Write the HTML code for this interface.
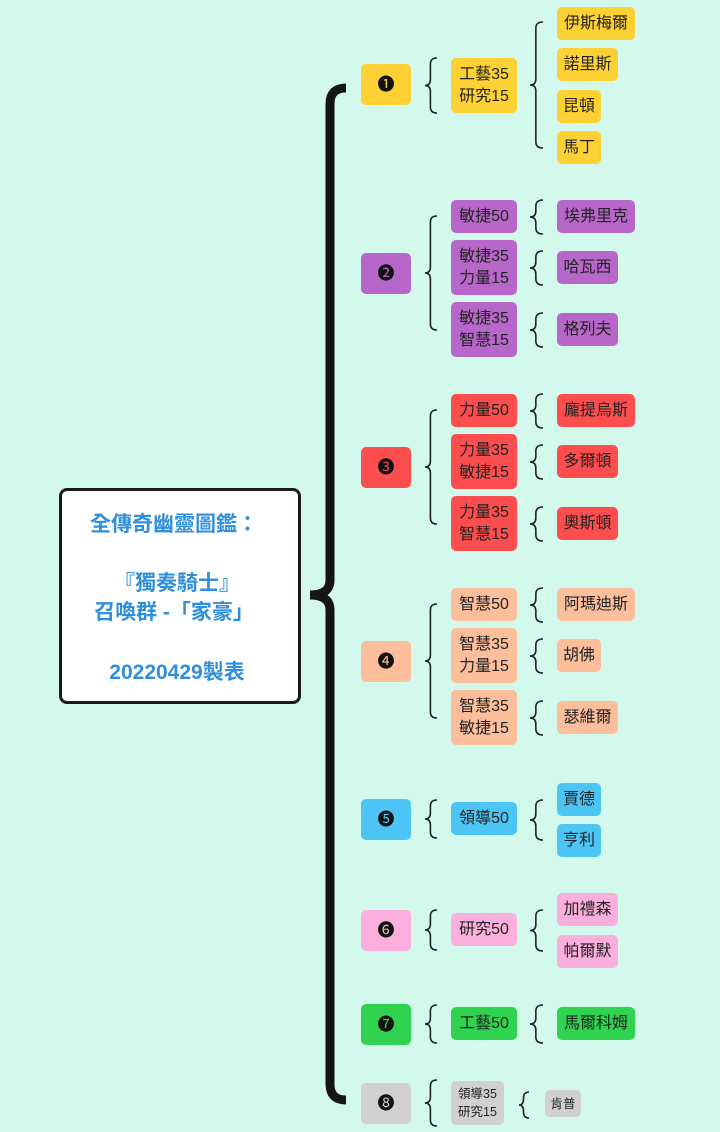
<!DOCTYPE html>
<html><head><meta charset="utf-8"><style>
body{margin:0;width:720px;height:1132px;background:#d3f9ed;position:relative;overflow:hidden;font-family:"Liberation Sans","Noto Sans CJK TC",sans-serif;}
.b{position:absolute;border-radius:5px;color:#222;font-size:16px;line-height:22px;display:flex;align-items:center;justify-content:center;text-align:center;white-space:nowrap;}
.y{background:#fdd133}.p{background:#b767c9}.r{background:#fc4e4e}.o{background:#fdbe9c}.c{background:#4cc5f5}.k{background:#fcafdc}.g{background:#30d350}.s{background:#d0d0d0}
.n{font-size:17px;color:#111}
#root{position:absolute;left:59px;top:488px;width:236px;height:210px;background:#fff;border:3px solid #1a1a1a;border-radius:8px;color:#2f8fdc;font-weight:bold;font-size:21px;text-align:center;}
#root div{position:absolute;left:0;right:0}
svg{position:absolute;left:0;top:0}
</style></head><body>
<svg width="720" height="1132" id="sv"></svg>
<div id="root">
<div style="top:17px;left:-12px">全傳奇幽靈圖鑑：</div>
<div style="top:76px;left:-6px">『獨奏騎士』</div>
<div style="top:105px;left:-12px">召喚群 -「家豪」</div>
<div style="top:165px;left:-6px">20220429製表</div>
</div>

<div class="b y n" style="left:361px;top:64px;width:50px;height:41px">❶</div>
<div class="b y" style="left:451px;top:58px;width:66px;height:55px">工藝35<br>研究15</div>
<div class="b y" style="left:557px;top:7px;width:78px;height:33px">伊斯梅爾</div>
<div class="b y" style="left:557px;top:48px;width:61px;height:33px">諾里斯</div>
<div class="b y" style="left:557px;top:90px;width:44px;height:33px">昆頓</div>
<div class="b y" style="left:557px;top:131px;width:44px;height:33px">馬丁</div>

<div class="b p n" style="left:361px;top:253px;width:50px;height:41px">❷</div>
<div class="b p" style="left:451px;top:200px;width:66px;height:33px">敏捷50</div>
<div class="b p" style="left:451px;top:240px;width:66px;height:55px">敏捷35<br>力量15</div>
<div class="b p" style="left:451px;top:302px;width:66px;height:55px">敏捷35<br>智慧15</div>
<div class="b p" style="left:557px;top:200px;width:78px;height:33px">埃弗里克</div>
<div class="b p" style="left:557px;top:251px;width:61px;height:33px">哈瓦西</div>
<div class="b p" style="left:557px;top:313px;width:61px;height:33px">格列夫</div>

<div class="b r n" style="left:361px;top:447px;width:50px;height:41px">❸</div>
<div class="b r" style="left:451px;top:394px;width:66px;height:33px">力量50</div>
<div class="b r" style="left:451px;top:434px;width:66px;height:55px">力量35<br>敏捷15</div>
<div class="b r" style="left:451px;top:496px;width:66px;height:55px">力量35<br>智慧15</div>
<div class="b r" style="left:557px;top:394px;width:78px;height:33px">龐提烏斯</div>
<div class="b r" style="left:557px;top:445px;width:61px;height:33px">多爾頓</div>
<div class="b r" style="left:557px;top:507px;width:61px;height:33px">奧斯頓</div>

<div class="b o n" style="left:361px;top:641px;width:50px;height:41px">❹</div>
<div class="b o" style="left:451px;top:588px;width:66px;height:33px">智慧50</div>
<div class="b o" style="left:451px;top:628px;width:66px;height:55px">智慧35<br>力量15</div>
<div class="b o" style="left:451px;top:690px;width:66px;height:55px">智慧35<br>敏捷15</div>
<div class="b o" style="left:557px;top:588px;width:78px;height:33px">阿瑪迪斯</div>
<div class="b o" style="left:557px;top:639px;width:44px;height:33px">胡佛</div>
<div class="b o" style="left:557px;top:701px;width:61px;height:33px">瑟維爾</div>

<div class="b c n" style="left:361px;top:799px;width:50px;height:41px">❺</div>
<div class="b c" style="left:451px;top:802px;width:66px;height:33px">領導50</div>
<div class="b c" style="left:557px;top:783px;width:44px;height:33px">賈德</div>
<div class="b c" style="left:557px;top:824px;width:44px;height:33px">亨利</div>

<div class="b k n" style="left:361px;top:910px;width:50px;height:41px">❻</div>
<div class="b k" style="left:451px;top:913px;width:66px;height:33px">研究50</div>
<div class="b k" style="left:557px;top:893px;width:61px;height:33px">加禮森</div>
<div class="b k" style="left:557px;top:935px;width:61px;height:33px">帕爾默</div>

<div class="b g n" style="left:361px;top:1004px;width:50px;height:41px">❼</div>
<div class="b g" style="left:451px;top:1007px;width:66px;height:33px">工藝50</div>
<div class="b g" style="left:557px;top:1007px;width:78px;height:33px">馬爾科姆</div>

<div class="b s n" style="left:361px;top:1083px;width:50px;height:41px">❽</div>
<div class="b s" style="left:451px;top:1081px;width:53px;height:44px;font-size:12.5px;line-height:18px">領導35<br>研究15</div>
<div class="b s" style="left:545px;top:1090px;width:36px;height:27px;font-size:12.5px">肯普</div>

<script>
var sv=document.getElementById('sv'),h='';
function br(xl,y1,y2,w){var xm=xl+w*0.45,xr=xl+w,ym=(y1+y2)/2,r=Math.min(6,(y2-y1)/4);
h+='<path d="M'+xr+' '+y1+' Q'+xm+' '+y1+' '+xm+' '+(y1+r)+' L'+xm+' '+(ym-r)+' Q'+xm+' '+ym+' '+xl+' '+ym+' Q'+xm+' '+ym+' '+xm+' '+(ym+r)+' L'+xm+' '+(y2-r)+' Q'+xm+' '+y2+' '+xr+' '+y2+'" fill="none" stroke="#222" stroke-width="1.6"/>';}
[[58,113],[216,330],[410,524],[604,718],[800,838],[910,950],[1005,1043],[1080,1126]].forEach(function(a){br(425,a[0],a[1],12)});
[[22,148],[200,234],[251,285],[313,347],[394,428],[445,479],[507,541],[588,622],[639,673],[701,735],[800,840],[910,951],[1005,1043]].forEach(function(a){br(530,a[0],a[1],13)});
br(519,1092,1118,10);
h+='<path d="M346 88 Q330 88 330 104 L330 580 Q330 595 310 595 Q330 595 330 610 L330 1084 Q330 1100 346 1100" fill="none" stroke="#151515" stroke-width="9"/>';
sv.innerHTML=h;
</script>
</body></html>
